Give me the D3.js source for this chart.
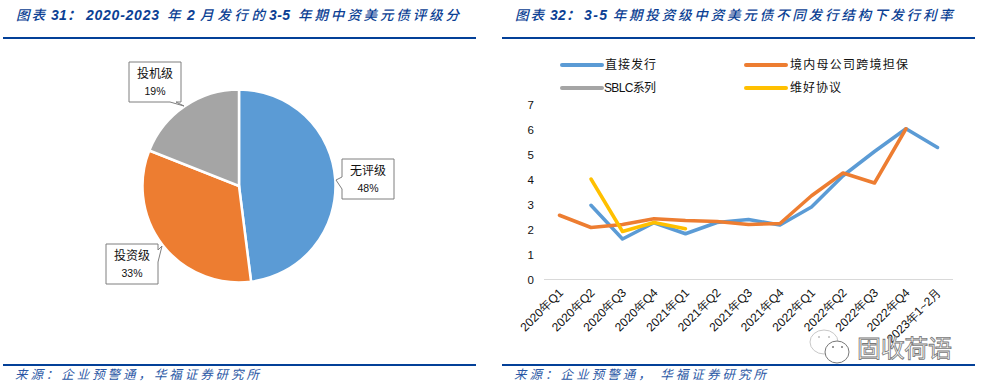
<!DOCTYPE html>
<html>

<head>
    <meta charset="utf-8">
    <title>图表 31 / 32</title>
    <script src="https://cdnjs.cloudflare.com/ajax/libs/d3/7.6.1/d3.min.js"></script>
    <style>
        html,
        body {
            margin: 0;
            padding: 0;
            background: white;
        }

        svg {
            display: block;
            font-family: "Liberation Sans", "Noto Sans CJK SC", sans-serif;
        }

        .heading {
            font-size: 14px;
            font-weight: bold;
            font-style: italic;
            fill: #0b3f94;
        }

        .heading.cjk {
            font-weight: 500;
            font-size: 13.5px;
        }

        .source {
            font-size: 12.5px;
            font-style: italic;
            fill: #2b58a5;
        }

        .chart-text {
            font-size: 10.5px;
            fill: #111;
        }
    </style>
</head>

<body>
    <svg id="chart" width="983" height="391"></svg>

    <script>
        // pie: rating split
        const ratingNames = ["无评级", "投资级", "投机级"];
        const ratingShares = [48, 33, 19];
        const ratingColors = ["#5b9bd5", "#ed7d31", "#a5a5a5"];

        // line chart: issue rates by structure
        const quarters = ["2020年Q1", "2020年Q2", "2020年Q3", "2020年Q4", "2021年Q1", "2021年Q2", "2021年Q3",
            "2021年Q4", "2022年Q1", "2022年Q2", "2022年Q3", "2022年Q4", "2023年1~2月"];
        const directRates = [null, 2.97, 1.62, 2.27, 1.83, 2.28, 2.4, 2.18, 2.9, 4.15, 5.12, 6.03, 5.28];
        const guaranteeRates = [2.57, 2.08, 2.2, 2.43, 2.36, 2.32, 2.2, 2.24, 3.35, 4.26, 3.86, 6.03, null];
        const sblcRates = [];
        const keepwellRates = [null, 4.02, 1.92, 2.28, 2.03];
        const yTicks = [0, 1, 2, 3, 4, 5, 6, 7];

        // headings are laid out run by run: text, x, width
        const leftTitle = [["图表", 16, 29], ["31：", 51, 30], ["2020-2023", 86, 73], ["年", 167, 14], ["2", 187, 8],
            ["月发行的", 200, 65], ["3-5", 269, 21], ["年期中资美元债评级分", 298, 161]];
        const rightTitle = [["图表", 515, 29], ["32：", 550, 30], ["3-5", 584, 23],
            ["年期投资级中资美元债不同发行结构下发行利率", 612.7, 340]];

        const svg = d3.select("#chart");

        function panelFrame(x0, x1, titleRuns, source, sourceX, sourceLen) {
            titleRuns.forEach(run => {
                svg.append("text")
                    .attr("class", /^[\x00-\x7f]/.test(run[0]) ? "heading" : "heading cjk")
                    .attr("x", run[1]).attr("y", 20)
                    .attr("textLength", run[2])
                    .text(run[0]);
            });
            svg.append("rect").attr("x", x0).attr("y", 37).attr("width", x1 - x0).attr("height", 2).attr("fill", "#034098");
            svg.append("rect").attr("x", x0).attr("y", 364).attr("width", x1 - x0).attr("height", 2).attr("fill", "#034098");
            svg.append("text").attr("class", "source")
                .attr("x", sourceX).attr("y", 379)
                .attr("textLength", sourceLen)
                .text(source);
        }

        panelFrame(3, 476, leftTitle, "来源：企业预警通，华福证券研究所", 15, 244);
        panelFrame(502, 975, rightTitle, "来源：企业预警通，  华福证券研究所", 514, 252);

        // ---- pie ----
        const pieG = svg.append("g").attr("transform", "translate(239,186)");
        const arcs = d3.pie().sort(null)(ratingShares);
        const arc = d3.arc().innerRadius(0).outerRadius(96.5);

        pieG.selectAll("path")
            .data(arcs)
            .enter()
            .append("path")
            .attr("d", arc)
            .attr("fill", (d, i) => ratingColors[i])
            .attr("stroke", "white")
            .attr("stroke-width", 2.5);

        // callout box = rect + little tail pointing at the slice
        const callouts = [
            { x: 342, y: 159, tail: [[342, 177], [336, 180], [342, 189]] },
            { x: 106, y: 244, tail: [[158, 262], [162, 246], [158, 250]] },
            { x: 129, y: 62, tail: [[170, 102], [184, 106], [176, 102]] }
        ];

        callouts.forEach((c, i) => {
            const w = 52, h = 40;
            let pts;
            if (i === 0) {
                pts = [[c.x, c.y], [c.x + w, c.y], [c.x + w, c.y + h], [c.x, c.y + h], c.tail[2], c.tail[1], c.tail[0]];
            } else if (i === 1) {
                pts = [[c.x, c.y], [c.x + w, c.y], c.tail[2], c.tail[1], c.tail[0], [c.x + w, c.y + h], [c.x, c.y + h]];
            } else {
                pts = [[c.x, c.y], [c.x + w, c.y], [c.x + w, c.y + h], c.tail[2], c.tail[1], c.tail[0], [c.x, c.y + h]];
            }
            svg.append("path")
                .attr("d", d3.line()(pts) + "Z")
                .attr("fill", "white")
                .attr("stroke", "#7f7f7f")
                .attr("stroke-width", 1);
            svg.append("text").attr("class", "chart-text")
                .attr("x", c.x + w / 2).attr("y", c.y + 16)
                .attr("text-anchor", "middle")
                .style("font-size", "12px")
                .text(ratingNames[i]);
            svg.append("text").attr("class", "chart-text")
                .attr("x", c.x + w / 2).attr("y", c.y + 33)
                .attr("text-anchor", "middle")
                .text(ratingShares[i] + "%");
        });

        // ---- line chart ----
        const xScale = d3.scalePoint()
            .domain(quarters)
            .range([559.5, 937.5]);

        const yScale = d3.scaleLinear()
            .domain([0, 7])
            .range([279.5, 104.5]);

        const xAxis = d3.axisBottom(xScale).tickSize(0).tickPadding(5);
        const yAxis = d3.axisLeft(yScale).tickValues(yTicks).tickSize(0).tickFormat(String);

        const xG = svg.append("g").attr("transform", "translate(0,279.5)").call(xAxis);
        xG.select(".domain").remove();
        xG.append("line").attr("x1", 544).attr("x2", 953).attr("stroke", "#d9d9d9").attr("stroke-width", 1);
        xG.selectAll("text")
            .attr("font-size", 12)
            .attr("fill", "#111")
            .attr("text-anchor", "end")
            .attr("transform", "translate(1,11) rotate(-45)")
            .attr("dy", "0.35em")
            .attr("y", 0);

        const yG = svg.append("g").attr("transform", "translate(534,0)").call(yAxis);
        yG.select(".domain").remove();
        yG.selectAll("text").attr("font-size", 11.5).attr("fill", "#111").attr("x", 0);

        const lineGen = d3.line()
            .defined(d => d != null)
            .x((d, i) => xScale(quarters[i]))
            .y(d => yScale(d));

        const series = [
            { name: "直接发行", values: directRates, color: "#5b9bd5" },
            { name: "境内母公司跨境担保", values: guaranteeRates, color: "#ed7d31" },
            { name: "SBLC系列", values: sblcRates, color: "#a5a5a5" },
            { name: "维好协议", values: keepwellRates, color: "#ffc000" }
        ];

        svg.selectAll(".rate-line")
            .data(series)
            .enter()
            .append("path")
            .attr("class", "rate-line")
            .attr("d", d => lineGen(d.values))
            .attr("fill", "none")
            .attr("stroke", d => d.color)
            .attr("stroke-width", 3.5)
            .attr("stroke-linecap", "round")
            .attr("stroke-linejoin", "round");

        // legend, 2 x 2
        const legendPos = [[562, 65], [746, 65], [562, 88], [746, 88]];
        const legendLen = [51, 118, 52, 51];
        const legendTextX = [605, 790, 604, 790];
        series.forEach((s, i) => {
            const [lx, ly] = legendPos[i];
            svg.append("line")
                .attr("x1", lx).attr("x2", lx + 40)
                .attr("y1", ly).attr("y2", ly)
                .attr("stroke", s.color)
                .attr("stroke-width", 4)
                .attr("stroke-linecap", "round");
            svg.append("text").attr("class", "chart-text")
                .attr("x", legendTextX[i]).attr("y", ly + 4)
                .style("font-size", "12px")
                .attr("textLength", legendLen[i])
                .text(s.name);
        });

        // ---- watermark ----
        const mark = svg.append("g");
        mark.append("ellipse").attr("cx", 824).attr("cy", 342).attr("rx", 14).attr("ry", 12)
            .attr("fill", "white").attr("stroke", "#c8c8c8").attr("stroke-width", 1);
        mark.append("ellipse").attr("cx", 837).attr("cy", 352).attr("rx", 12).attr("ry", 11)
            .attr("fill", "white").attr("stroke", "#777").attr("stroke-width", 1);
        [[819, 337], [829, 337]].forEach(p => {
            mark.append("circle").attr("cx", p[0]).attr("cy", p[1]).attr("r", 1).attr("fill", "#bbb");
        });
        [[833, 347], [842, 347]].forEach(p => {
            mark.append("circle").attr("cx", p[0]).attr("cy", p[1]).attr("r", 1).attr("fill", "#777");
        });
        mark.append("text")
            .attr("x", 857).attr("y", 357)
            .attr("font-size", 24)
            .attr("textLength", 95)
            .attr("fill", "white")
            .attr("stroke", "#777")
            .attr("stroke-width", 0.8)
            .text("固收荷语");
    </script>
</body>

</html>
